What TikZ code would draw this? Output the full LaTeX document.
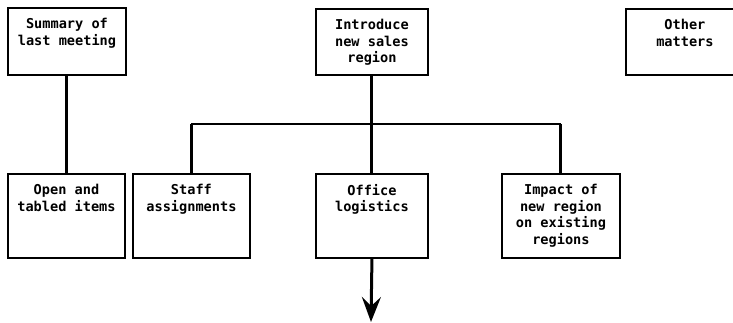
\documentclass[tikz,border=0pt]{standalone}
\usepackage{fontspec}
\setmainfont{DejaVu Sans Mono}
\usetikzlibrary{arrows.meta, positioning}

\tikzset{
  box/.style={draw, line width=1.9pt, anchor=north west, inner sep=0pt},
  txt/.style={align=center, inner sep=0pt, anchor=north,
    font=\fontsize{13.6}{16.5}\selectfont\bfseries},
  vline/.style={line width=3pt},
  hline/.style={line width=1.6pt}
}

\begin{document}
\begin{tikzpicture}[x=1pt, y=-1pt]
\clip (0,0) rectangle (733,323);

% top row
\node[box, minimum width=118pt, minimum height=67pt] (sum) at (7,7) {};
\node[box, minimum width=112pt, minimum height=66pt] (intro) at (315,8) {};
\node[box, minimum width=118pt, minimum height=66pt] (other) at (625,8) {};
\node[txt, below=11pt of sum.north] (sumtxt) {Summary of\\last meeting};
\node[txt, below=11pt of intro.north] (introtxt) {Introduce\\new sales\\region};
\node[txt, below=11pt of other.north] (othertxt) {Other\\matters};

% bottom row
\node[box, minimum width=117pt, minimum height=84pt] (open) at (7,173) {};
\node[box, minimum width=117pt, minimum height=84pt] (staff) at (132,173) {};
\node[box, minimum width=112pt, minimum height=84pt] (office) at (315,173) {};
\node[box, minimum width=118pt, minimum height=84pt] (impact) at (501,173) {};
\node[txt, below=11pt of open.north] (opentxt) {Open and\\tabled items};
\node[txt, below=11pt of staff.north] (stafftxt) {Staff\\assignments};
\node[txt, below=11pt of office.north] (officetxt) {Office\\logistics};
\node[txt, below=11pt of impact.north] (impacttxt) {Impact of\\new region\\on existing\\regions};

% connectors
\coordinate (split) at (371,124);
\coordinate (end) at (371,322);
\draw[vline] (sum.south) -- (sum.south |- open.north);
\draw[vline] (intro.south) -- (office.north);
\draw[hline] (split -| staff.north) -- (split -| impact.north);
\draw[vline] (split -| staff.north) -- (staff.north);
\draw[vline] (split -| impact.north) -- (impact.north);
\draw[vline, -{Stealth[length=25pt, width=19pt, inset=9pt]}] (office.south) -- (end);
\end{tikzpicture}
\end{document}
